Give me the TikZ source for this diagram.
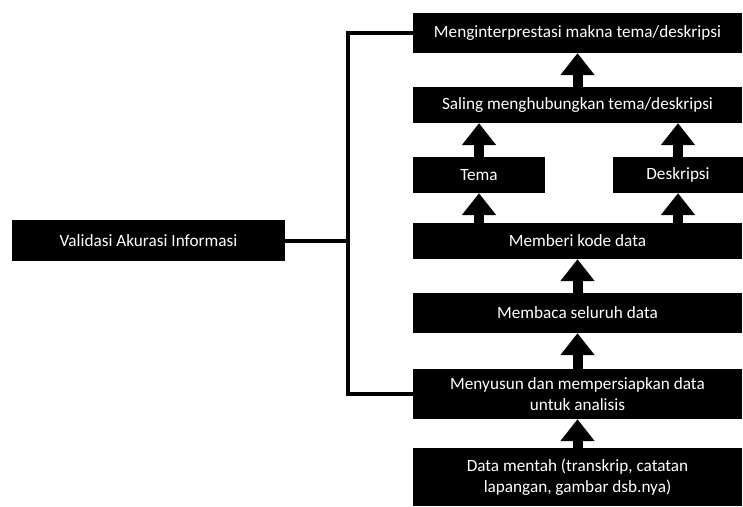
\documentclass[tikz,border=0pt]{standalone}
\usepackage{fontspec}
\setmainfont{Carlito}
\usepackage{tikz}
\usetikzlibrary{arrows.meta, calc, positioning}
\tikzset{>=stealth}
\tikzset{
	stagebox/.style={fill=black, text=white, inner sep=0pt, align=center, font=\fontsize{17.2}{21}\selectfont},
	uparrow/.style={line width=10pt, -{Triangle[width=33pt,length=22pt]}},
	linkline/.style={line width=4pt}
}

\begin{document}
\begin{tikzpicture}[x=1pt,y=-1pt]
			\useasboundingbox (0,0) rectangle (743,506);
			\node [stagebox, minimum width=329pt, minimum height=40pt] (interp) at (577.5,33) {Menginterprestasi makna tema/deskripsi};
			\node [stagebox, minimum width=329pt, minimum height=36pt] (saling) at (577.5,105) {Saling menghubungkan tema/deskripsi};
			\node [stagebox, minimum width=132pt, minimum height=36pt] (tema) at (479,175) {Tema};
			\node [stagebox, minimum width=130pt, minimum height=36pt] (deskripsi) at (678,175) {Deskripsi};
			\node [stagebox, minimum width=329pt, minimum height=36pt] (kode) at (577.5,241) {Memberi kode data};
			\node [stagebox, minimum width=329pt, minimum height=40pt] (membaca) at (577.5,313) {Membaca seluruh data};
			\node [stagebox, minimum width=329pt, minimum height=50pt] (menyusun) at (577.5,394) {Menyusun dan mempersiapkan data\\ untuk analisis};
			\node [stagebox, minimum width=329pt, minimum height=58pt] (mentah) at (577.5,477) {Data mentah (transkrip, catatan\\ lapangan, gambar dsb.nya)};
			\node [stagebox, minimum width=273pt, minimum height=41pt] (validasi) at (148.5,240.5) {Validasi Akurasi Informasi};
			\draw [uparrow] (mentah.north) -- (menyusun.south);
			\draw [uparrow] (menyusun.north) -- (membaca.south);
			\draw [uparrow] (membaca.north) -- (kode.south);
			\draw [uparrow] (kode.north -| tema) -- (tema.south);
			\draw [uparrow] (kode.north -| deskripsi) -- (deskripsi.south);
			\draw [uparrow] (tema.north) -- (tema.north |- saling.south);
			\draw [uparrow] (deskripsi.north) -- (deskripsi.north |- saling.south);
			\draw [uparrow] (saling.north) -- (interp.south);
			\draw [linkline] (validasi.east) -- ++(63,0) coordinate (branch);
			\draw [linkline] (interp.west) -- (interp.west -| branch) -- (menyusun.west -| branch) -- (menyusun.west);
		\end{tikzpicture}
\end{document}
